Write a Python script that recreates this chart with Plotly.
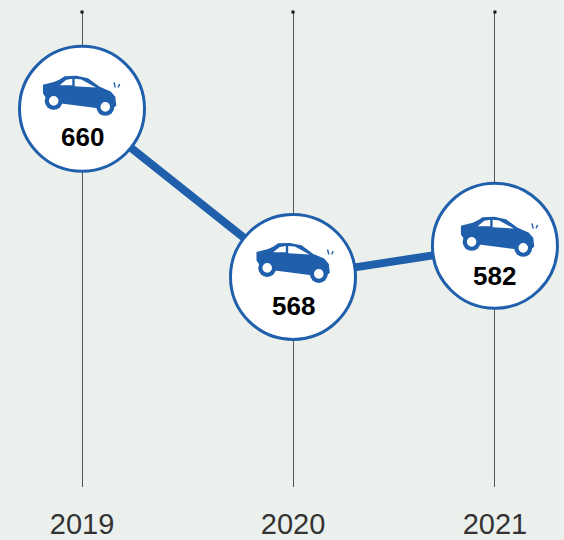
import plotly.graph_objects as go

years = ["2019", "2020", "2021"]
values = [660, 568, 582]
# Drawn heights (the reference places 2021 slightly above its labelled value)
drawn_levels = [660, 568, 585]
# Horizontal placement (spacing in the reference is uneven)
x_places = [2019.0, 2020.0, 2020.957]

BLUE = "#1f5fab"
BG = "#ecf0ed"

# Car icon, pixels relative to circle centre (x right, y up)
car_body = [(-39, 25), (-27.3, 28), (-22, 30.5), (-17.3, 33.7), (-5.7, 34), (6, 31.7), (17.7, 23), (28.7, 18.3),
            (33.3, 13), (34.3, 4), (27.7, -0.3), (16, 1.7), (-20.7, 6.3), (-35.7, 11.7), (-39, 16.3)]
win1 = [(-22.3, 24.7), (-15.7, 30), (-9.7, 31), (-9.7, 24.7)]
win2 = [(-7.3, 31), (-0.7, 30.3), (14, 22.3), (-7.3, 23.7)]
spark1 = [(31.3, 27.3), (32.8, 27.3), (34, 22.3), (32.6, 22.3)]
spark2 = [(37, 26), (38.4, 25.6), (36.8, 22.3), (35.4, 22.6)]
wheels = [(-28.3, 9), (23.3, 3)]
# The icon and label sit slightly differently inside each circle in the reference
icon_dx = [0, 2.5, 5]
icon_dy = [-1, 0, -5]
label_drop = [28, 29, 30]


def poly(points, dx, dy):
    return "M" + " L".join(f"{px + dx},{py + dy}" for px, py in points) + " Z"


fig = go.Figure()
fig.add_trace(go.Scatter(
    x=x_places, y=drawn_levels, mode="lines+markers",
    line=dict(color=BLUE, width=8),
    marker=dict(size=125, color="white", line=dict(color=BLUE, width=3)),
    hoverinfo="skip", cliponaxis=False,
))
fig.add_trace(go.Scatter(
    x=x_places, y=[713] * 3, mode="markers",
    marker=dict(size=3, color="#111111", symbol="square"),
    hoverinfo="skip", cliponaxis=False,
))

shapes = []
for xp, yp, dx, dy in zip(x_places, drawn_levels, icon_dx, icon_dy):
    anchor = dict(xref="x", yref="y", xsizemode="pixel", ysizemode="pixel",
                  xanchor=xp, yanchor=yp, line=dict(width=0), layer="above")
    for pts, col in [(car_body, BLUE), (win1, "white"), (win2, "white"),
                     (spark1, BLUE), (spark2, BLUE)]:
        shapes.append(dict(type="path", path=poly(pts, dx, dy), fillcolor=col, **anchor))
    for wx, wy in wheels:
        for r, col in [(9, BLUE), (4.8, "white")]:
            shapes.append(dict(type="circle", x0=wx + dx - r, x1=wx + dx + r,
                               y0=wy + dy - r, y1=wy + dy + r, fillcolor=col, **anchor))

annotations = [dict(x=xp, y=yp, text=f"<b>{v}</b>", showarrow=False, yshift=-drop,
                    font=dict(family="Liberation Sans", size=26, color="#000000"))
               for xp, yp, v, drop in zip(x_places, drawn_levels, values, label_drop)]

fig.update_layout(
    width=564, height=540, autosize=False, showlegend=False,
    paper_bgcolor=BG, plot_bgcolor=BG,
    margin=dict(l=0, r=0, t=12, b=53, autoexpand=False),
    shapes=shapes, annotations=annotations,
    xaxis=dict(range=[2019 - 82 / 211, 2019 + (564 - 82) / 211], tickmode="array", automargin=False,
               tickvals=x_places, ticktext=years, showgrid=True, gridcolor="#555555", gridwidth=1,
               zeroline=False, showline=False, ticks="outside", ticklen=11, tickcolor="rgba(0,0,0,0)",
               tickfont=dict(family="Liberation Sans", size=29, color="#333333")),
    yaxis=dict(range=[453, 713], visible=False, automargin=False),
)
fig.write_html("out.html", config=dict(displayModeBar=False),
               post_script="document.body.style.margin='0';document.body.style.background='#ecf0ed';")
